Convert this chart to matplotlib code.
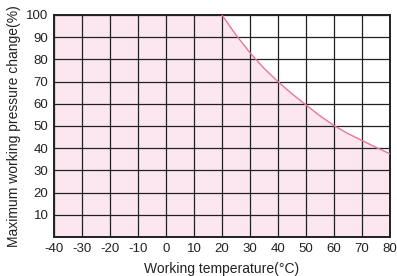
import matplotlib
matplotlib.use("Agg")
import matplotlib.pyplot as plt
import numpy as np

temps = [-40, 20, 25, 30, 35, 40, 45, 50, 55, 60, 65, 70, 75, 80]
pressure = [100, 100, 91, 83, 76, 70, 64.5, 59.5, 54.6, 50.2, 46.6, 43.5, 40.4, 37.5]
curve_temps = temps[1:]
curve_pressure = pressure[1:]
xticks = list(range(-40, 81, 10))
yticks = list(range(10, 101, 10))

plt.rcParams['font.family'] = ['Liberation Sans', 'DejaVu Sans']
plt.rcParams['axes.unicode_minus'] = False
fig = plt.figure(figsize=(3.97, 2.76), dpi=100)
ax = fig.add_axes([0.136, 0.141, 0.846, 0.805])
ax.fill_between(temps, 0, pressure, color='#fce6ef', zorder=0, linewidth=0)
ax.plot(curve_temps, curve_pressure, color='#e8769c', lw=1.0, zorder=3)
ax.set_xlim(-40, 80)
ax.set_ylim(0, 100)
ax.set_xticks(xticks)
ax.set_yticks(yticks)
ax.grid(True, color='#222222', lw=0.9, zorder=1)
ax.set_axisbelow(False)
for s in ax.spines.values():
    s.set_color('#222222')
    s.set_linewidth(1.4)
ax.tick_params(length=0, labelsize=9.5, pad=4, colors='#222222')
ax.set_xlabel('Working temperature(°C)', fontsize=10, color='#222222', labelpad=5)
ax.set_ylabel('Maximum working pressure change(%)', fontsize=10, color='#222222', labelpad=4)
fig.savefig('out.png', dpi=100)
